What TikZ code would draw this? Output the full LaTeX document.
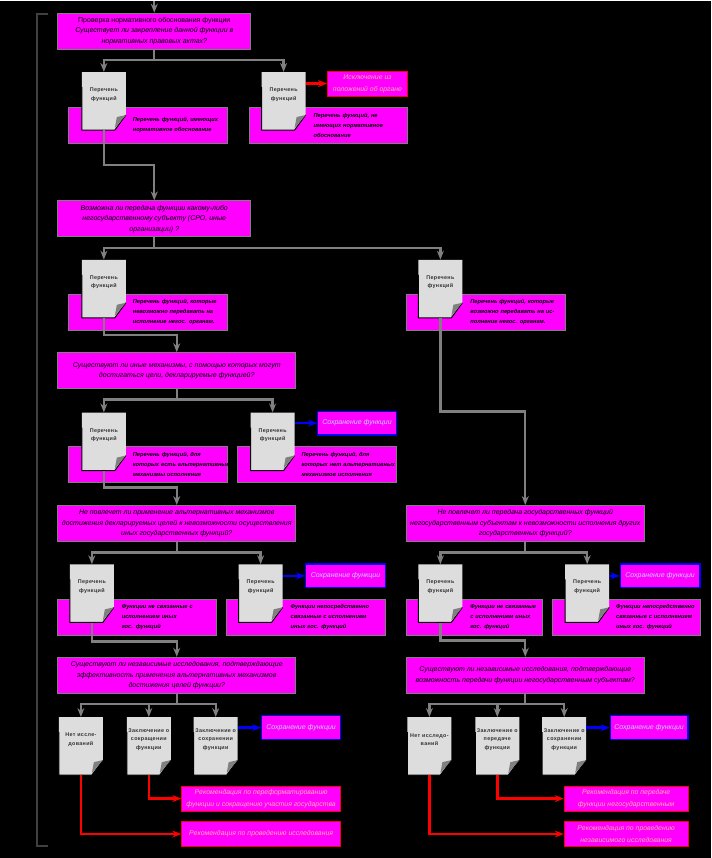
\documentclass[tikz,border=0pt]{standalone}
\usepackage{fontspec}
\usetikzlibrary{arrows.meta}
\setmainfont{Liberation Sans}
\newfontfamily\pagefont[LetterSpace=6]{Liberation Sans}

\definecolor{boxfill}{HTML}{FF00FF}
\definecolor{linegray}{HTML}{808080}
\definecolor{pagegray}{HTML}{DDDDDD}
\definecolor{redtext}{HTML}{FFB0A0}
\definecolor{bluetext}{HTML}{C8D0FF}

\tikzset{
  mainbox/.style={draw=linegray,fill=boxfill,line width=1pt,align=center,inner sep=0pt,
    minimum height=36pt,minimum width=#1,font=\fontsize{7}{10.5}\selectfont\itshape},
  descbox/.style={draw=linegray,fill=boxfill,line width=1pt,align=left,inner xsep=2pt,inner ysep=0pt,
    minimum height=36pt,text width=#1-4pt,
    execute at begin node={\leftskip=62pt\relax\rightskip=-40pt plus 1fil\relax},
    font=\fontsize{5.7}{10}\selectfont\bfseries\itshape},
  redbox/.style={draw=red,fill=boxfill,line width=1pt,align=center,inner sep=0pt,text=redtext,
    minimum height=25pt,minimum width=#1,font=\fontsize{6.9}{12}\selectfont\itshape},
  bluebox/.style={draw=blue,fill=boxfill,line width=1.2pt,align=center,inner sep=0pt,text=bluetext,
    minimum height=24pt,minimum width=#1,font=\fontsize{7}{10}\selectfont\itshape},
  pagebox/.style={minimum width=44pt,minimum height=58pt,inner sep=0pt},
  pagetext/.style={align=center,inner sep=0pt,text=black!80,
    font=\pagefont\fontsize{5.4}{8.6}\selectfont\bfseries},
  flow/.style={draw=linegray,line width=2.4pt},
  flowtip/.style={flow,-{Stealth[length=9pt,width=7pt]}},
  redtip/.style={draw=red,line width=2.4pt,-{Stealth[length=9pt,width=7pt]}},
  bluetip/.style={draw=blue,line width=2.4pt,-{Stealth[length=9pt,width=7pt]}},
  bracket/.style={draw=black!75,line width=1.6pt}
}

\newcommand{\docpage}[4]{%
  \fill[pagegray] (#2,#3) -- ++(44,0) -- ++(0,43) -- ++(-11,15) -- ++(-33,0) -- cycle;
  \draw[black,line width=1pt] (#2,#3+15) -- (#2,#3+58) -- ++(33,0) -- ++(11,-15);
  \fill[linegray] (#2+33,#3+56) -- (#2+35,#3+45) -- (#2+44,#3+43) -- cycle;
  \node[pagebox] (#1) at (#2+22,#3+29) {};
  \node[pagetext] (#1t) at (#2+22,#3+22.5) {#4};
}

\begin{document}
\begin{tikzpicture}[x=1pt,y=-1pt]

\fill[black] (0,0) rectangle (712,858);

% questions
\node[mainbox=193pt] (quest1) at (154.5,30) {{\upshape Проверка нормативного обоснования функции}\\Существует ли закрепление данной функции в\\нормативных правовых актах?};
\node[mainbox=193pt] (quest2) at (154.5,218) {Возможна ли передача функции какому-либо\\негосударственному субъекту (СРО, иные\\организации) ?};
\node[mainbox=238pt] (quest3) at (177,370) {Существуют ли иные механизмы, с помощью которых могут\\достигаться цели, декларируемые функцией?};
\node[mainbox=238pt] (quest4) at (177,523) {Не повлечет ли применение альтернативных механизмов\\достижения декларируемых целей к невозможности осуществления\\иных государственных функций?};
\node[mainbox=238pt] (quest5) at (177,675) {Существуют ли независимые исследования, подтверждающие\\эффективность применения альтернативных механизмов\\достижения целей функции?};
\node[mainbox=238pt] (right4) at (526,523) {Не повлечет ли передача государственных функций\\негосударственным субъектам к невозможности исполнения других\\государственных функций?};
\node[mainbox=238pt] (right5) at (526,675) {Существуют ли независимые исследования, подтверждающие\\возможность передачи функции негосударственным субъектам?};

% lists
\node[descbox=159pt] (list1a) at (148.5,124) {Перечень функций, имеющих\\нормативное обоснование};
\node[descbox=158pt] (list1b) at (329,124) {Перечень функций, не\\имеющих нормативное\\обоснование};
\node[descbox=159pt] (list2a) at (148.5,311.5) {Перечень функций, которые\\невозможно передавать на\\исполнение негос. органам.};
\node[descbox=159pt] (list2b) at (486.5,311.5) {Перечень функций, которые\\возможно передавать на ис-\\полнение негос. органам.};
\node[descbox=159pt] (list3a) at (148.5,464) {Перечень функций, для\\которых есть альтернативные\\механизмы исполнения};
\node[descbox=159pt] (list3b) at (317.5,464) {Перечень функций, для\\которых нет альтернативных\\механизмов исполнения};
\node[descbox=159pt] (list4a) at (137.5,617) {Функции не связанные с\\исполнением иных\\гос. функций};
\node[descbox=159pt] (list4b) at (306.5,617) {Функции непосредственно\\связанные с исполнением\\иных гос. функций};
\node[descbox=136pt] (list4c) at (475,617) {Функции не связанные\\с исполнением иных\\гос. функций};
\node[descbox=148pt] (list4d) at (627,617) {Функции непосредственно\\связанные с исполнением\\иных гос. функций};

% pages
\docpage{page1a}{82}{71}{Перечень\\функций}
\docpage{page1b}{262}{71}{Перечень\\функций}
\docpage{page2a}{82}{259}{Перечень\\функций}
\docpage{page2b}{419}{259}{Перечень\\функций}
\docpage{page3a}{82}{412}{Перечень\\функций}
\docpage{page3b}{251}{412}{Перечень\\функций}
\docpage{page4a}{70}{564}{Перечень\\функций}
\docpage{page4b}{239}{564}{Перечень\\функций}
\docpage{page4c}{419}{564}{Перечень\\функций}
\docpage{page4d}{566}{564}{Перечень\\функций}
\docpage{page5a}{59}{717}{Нет иссле-\\дований}
\docpage{page5b}{127}{717}{Заключение о\\сокращении\\функции}
\docpage{page5c}{194}{717}{Заключение о\\сохранении\\функции}
\docpage{page6a}{408}{717}{Нет исследо-\\ваний}
\docpage{page6b}{476}{717}{Заключение о\\передаче\\функции}
\docpage{page6c}{543}{717}{Заключение о\\сохранении\\функции}

% results
\node[redbox=80pt] (excl1) at (368,82.5) {Исключение из\\положений об органе};
\node[bluebox=79pt] (keep3) at (357.5,422.5) {Сохранение функции};
\node[bluebox=80pt] (keep4) at (346,575.5) {Сохранение функции};
\node[bluebox=80pt] (keep4r) at (661,575.5) {Сохранение функции};
\node[bluebox=79pt] (keep5) at (301.5,727.5) {Сохранение функции};
\node[bluebox=78pt] (keep6) at (650,727.5) {Сохранение функции};
\node[redbox=159pt] (recA) at (261.5,798.5) {Рекомендация по переформатированию\\функции и сокращению участия государства};
\node[redbox=159pt] (recB) at (261.5,834) {Рекомендация по проведению исследования};
\node[redbox=124pt] (recC) at (627,798.5) {Рекомендация по передаче\\функции негосударственным};
\node[redbox=124pt] (recD) at (627,834) {Рекомендация по проведению\\независимого исследования};

% junctions
\coordinate (start) at (154.5,0);
\coordinate (brtop) at (48,13);
\coordinate (fork1) at (154.5,59);
\coordinate (join1) at (154.5,164);
\coordinate (fork2) at (154.5,247);
\coordinate (join2) at (177,334);
\coordinate (fork3) at (177,399);
\coordinate (join3) at (177,487);
\coordinate (fork4) at (177,552);
\coordinate (join4) at (177,641);
\coordinate (fork5) at (177,704);
\coordinate (join5) at (526,411);
\coordinate (fork4r) at (526,552);
\coordinate (join6) at (526,640);
\coordinate (fork5r) at (526,704);

\draw[bracket] (brtop) -- ++(-11,0) -- ++(0,833) -- ++(11,0);

\draw[flowtip] (start) -- (quest1);
\draw[flow] (quest1) -- (fork1);
\draw[flowtip] (fork1) -| (page1a);
\draw[flowtip] (fork1) -| (page1b);
\draw[flowtip] (page1a) |- (join1) -- (quest2);
\draw[redtip] (page1b.east |- excl1) -- (excl1);

\draw[flow] (quest2) -- (fork2);
\draw[flowtip] (fork2) -| (page2a);
\draw[flowtip] (fork2) -| (page2b);
\draw[flowtip] (page2a) |- (join2) -- (quest3);
\draw[flowtip] (page2b) |- (join5) -- (right4);

\draw[flow] (quest3) -- (fork3);
\draw[flowtip] (fork3) -| (page3a);
\draw[flowtip] (fork3) -| (page3b);
\draw[flowtip] (page3a) |- (join3) -- (quest4);
\draw[bluetip] (page3b.east |- keep3) -- (keep3);

\draw[flow] (quest4) -- (fork4);
\draw[flowtip] (fork4) -| (page4a);
\draw[flowtip] (fork4) -| (page4b);
\draw[flowtip] (page4a) |- (join4) -- (quest5);
\draw[bluetip] (page4b.east |- keep4) -- (keep4);

\draw[flow] (right4) -- (fork4r);
\draw[flowtip] (fork4r) -| (page4c);
\draw[flowtip] (fork4r) -| (page4d);
\draw[flowtip] (page4c) |- (join6) -- (right5);
\draw[bluetip] (page4d.east |- keep4r) -- (keep4r);

\draw[flow] (quest5) -- (fork5);
\draw[flowtip] (fork5) -| (page5a);
\draw[flowtip] (fork5) -| (page5b);
\draw[flowtip] (fork5) -| (page5c);
\draw[bluetip] (page5c.east |- keep5) -- (keep5);
\draw[redtip] (page5b) |- (recA);
\draw[redtip] (page5a) |- (recB);

\draw[flow] (right5) -- (fork5r);
\draw[flowtip] (fork5r) -| (page6a);
\draw[flowtip] (fork5r) -| (page6b);
\draw[flowtip] (fork5r) -| (page6c);
\draw[bluetip] (page6c.east |- keep6) -- (keep6);
\draw[redtip] (page6b) |- (recC);
\draw[redtip] (page6a) |- (recD);

\end{tikzpicture}
\end{document}
